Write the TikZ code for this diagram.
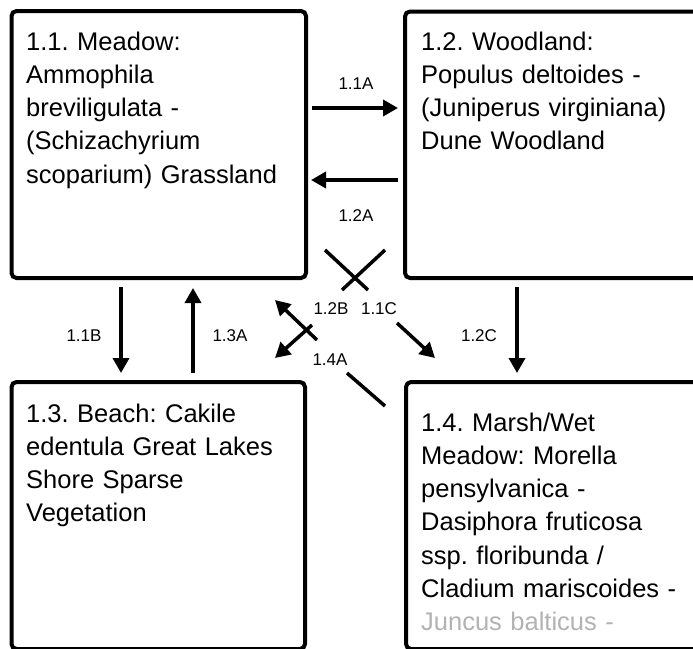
\documentclass[tikz,border=0pt]{standalone}
\usepackage{fontspec}
\setmainfont{Liberation Sans}
\usetikzlibrary{arrows.meta}
\frenchspacing
\begin{document}
\begin{tikzpicture}[x=1pt,y=-1pt,
  box/.style={draw,line width=4pt,rounded corners=5pt,inner sep=0pt,anchor=north west},
  txt/.style={anchor=base west,align=left,text width=300pt,inner sep=0pt,font=\fontsize{25.5}{33.3}\selectfont\frenchspacing},
  lbl/.style={font=\fontsize{17}{20}\selectfont,inner sep=0pt},
  arr/.style={line width=3.5pt,-{Triangle[length=15pt,width=16pt]}},
  seg/.style={line width=3.5pt}]
\useasboundingbox (0,0) rectangle (693,648);
\clip (0,0) rectangle (693,648);
% boxes
\node[box,minimum width=294.5pt,minimum height=267pt] (b11) at (9.5,9) {};
\node[box,minimum width=320pt,minimum height=266.5pt] (b12) at (403,9.5) {};
\node[box,minimum width=293.5pt,minimum height=267pt] (b13) at (9.5,380) {};
\node[box,minimum width=320pt,minimum height=267pt] (b14) at (404,380) {};
% texts
\node[txt] (t11) at (26,50) {1.1. Meadow:\\Ammophila\\breviligulata -\\(Schizachyrium\\scoparium) Grassland};
\node[txt] (t12) at (421,50) {1.2. Woodland:\\Populus deltoides -\\(Juniperus virginiana)\\Dune Woodland};
\node[txt] (t13) at (26,422) {1.3. Beach: Cakile\\edentula Great Lakes\\Shore Sparse\\Vegetation};
\node[txt] (t14) at (421,431) {1.4. Marsh/Wet\\Meadow: Morella\\pensylvanica -\\Dasiphora fruticosa\\ssp. floribunda /\\Cladium mariscoides -\\{\color{black!30}Juncus balticus -}};
% coordinates
\coordinate (a1s) at (312,108); \coordinate (a1e) at (398,108);
\coordinate (a2s) at (398,180); \coordinate (a2e) at (311,180);
\coordinate (bBs) at (121,287); \coordinate (bBe) at (121,373);
\coordinate (c3s) at (193,373); \coordinate (c3e) at (193,288);
\coordinate (c2s) at (517,287); \coordinate (c2e) at (517,373);
% diagonal: 1.2B
\coordinate (d2s) at (385,250); \coordinate (d2g1) at (342,290);
\coordinate (d2g2) at (312,325); \coordinate (d2e) at (275,358);
% diagonal: 1.1C
\coordinate (d1s) at (325,250); \coordinate (d1g1) at (368,290);
\coordinate (d1g2) at (397,323); \coordinate (d1e) at (435,358);
% diagonal: 1.4A
\coordinate (d4s) at (385,406); \coordinate (d4g1) at (347,373);
\coordinate (d4g2) at (317,340); \coordinate (d4e) at (275,300);
% arrows
\draw[arr] (a1s) -- (a1e);
\draw[arr] (a2s) -- (a2e);
\draw[arr] (bBs) -- (bBe);
\draw[arr] (c3s) -- (c3e);
\draw[arr] (c2s) -- (c2e);
\draw[seg] (d2s) -- (d2g1);
\draw[arr] (d2g2) -- (d2e);
\draw[seg] (d1s) -- (d1g1);
\draw[arr] (d1g2) -- (d1e);
\draw[seg] (d4s) -- (d4g1);
\draw[arr] (d4g2) -- (d4e);
% labels
\node[lbl] (l11a) at (356,84) {1.1A};
\node[lbl] (l12a) at (356,216) {1.2A};
\node[lbl] (l11b) at (84,336) {1.1B};
\node[lbl] (l13a) at (230,336) {1.3A};
\node[lbl] (l12c) at (479,336) {1.2C};
\node[lbl] (l12b) at (331,309) {1.2B};
\node[lbl] (l11c) at (379,309) {1.1C};
\node[lbl] (l14a) at (330,360) {1.4A};
\end{tikzpicture}
\end{document}
